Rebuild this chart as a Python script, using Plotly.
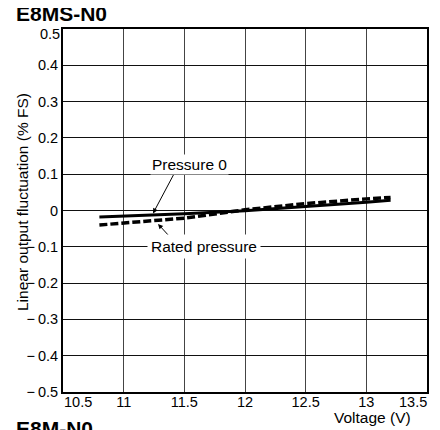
import plotly.graph_objects as go

title_text = "E8MS-N0"
next_title = "E8M-N0"
y_title = "Linear output fluctuation (% FS)"
x_title = "Voltage (V)"
voltage = [10.8, 11.0, 11.5, 12.0, 12.5, 13.0, 13.2]
pressure0 = [-0.018, -0.016, -0.009, -0.001, 0.012, 0.023, 0.028]
rated = [-0.040, -0.034, -0.021, 0.002, 0.019, 0.032, 0.036]
x_ticks = [10.5, 11, 11.5, 12, 12.5, 13, 13.5]
x_ticktext = ["", "11", "11.5", "12", "12.5", "13", ""]
y_ticks = [-0.5, -0.4, -0.3, -0.2, -0.1, 0, 0.1, 0.2, 0.3, 0.4, 0.5]
y_ticktext = ["\u2212\u20090.5", "\u2212\u20090.4", "\u2212\u20090.3", "\u2212\u20090.2",
              "\u2212\u20090.1", "0", "0.1", "0.2", "0.3", "0.4", ""]
y_top_label = "0.5"

FONT = "Liberation Sans, Arial, Helvetica, sans-serif"
TICK = 14.5
LBL = 15.5

fig = go.Figure()
fig.add_trace(go.Scatter(x=voltage, y=pressure0, mode="lines",
                         line=dict(color="black", width=3), name="Pressure 0"))
fig.add_trace(go.Scatter(x=voltage, y=rated, mode="lines",
                         line=dict(color="black", width=3.5, dash="8px,3px"),
                         name="Rated pressure"))

ann = []
# edge tick labels (shifted inward like the original)
ann.append(dict(x=x_ticks[0], y=y_ticks[0], xref="x", yref="y", text="10.5", showarrow=False,
                xanchor="left", yanchor="middle", yshift=-10, xshift=-1,
                font=dict(size=TICK, color="black")))
ann.append(dict(x=x_ticks[-1], y=y_ticks[0], xref="x", yref="y", text="13.5", showarrow=False,
                xanchor="right", yanchor="middle", yshift=-10, xshift=2,
                font=dict(size=TICK, color="black")))
ann.append(dict(x=0, y=y_ticks[-1], xref="paper", yref="y", text=y_top_label, showarrow=False,
                xanchor="right", yanchor="middle", yshift=-4.5, xshift=-1,
                font=dict(size=TICK, color="black")))
# axis titles
ann.append(dict(x=1, y=0, xref="paper", yref="paper", text=x_title, showarrow=False,
                xanchor="right", yanchor="middle", xshift=-14, yshift=-25,
                font=dict(size=LBL, color="black")))
ann.append(dict(x=0, y=0.5, xref="paper", yref="paper", text=y_title, showarrow=False,
                textangle=-90, xanchor="center", yanchor="middle", xshift=-41, yshift=8.5,
                font=dict(size=LBL, color="black")))
# series labels
ann.append(dict(x=11.242, y=-0.008, xref="x", yref="y", ax=11.423, ay=0.106,
                axref="x", ayref="y", text="", showarrow=True, arrowhead=2,
                arrowsize=1, arrowwidth=1, arrowcolor="black"))
ann.append(dict(x=11.54, y=0.128, xref="x", yref="y", text="Pressure 0", showarrow=False,
                bgcolor="white", font=dict(size=LBL, color="black")))
ann.append(dict(x=11.283, y=-0.037, xref="x", yref="y", ax=11.382, ay=-0.073,
                axref="x", ayref="y", text="", showarrow=True, arrowhead=2,
                arrowsize=1, arrowwidth=1, arrowcolor="black"))
ann.append(dict(x=11.66, y=-0.1, xref="x", yref="y", text="Rated pressure", showarrow=False,
                bgcolor="white", borderpad=3, font=dict(size=LBL, color="black")))
# titles
ann.append(dict(x=0, y=1, xref="paper", yref="paper", text="<b>" + title_text + "</b>",
                showarrow=False, xanchor="left", yanchor="middle", xshift=-49, yshift=16,
                font=dict(size=21, color="black")))
ann.append(dict(x=0, y=0, xref="paper", yref="paper", text="<b>" + next_title + "</b>",
                showarrow=False, xanchor="left", yanchor="middle", xshift=-49, yshift=-36,
                font=dict(size=21, color="black")))

fig.update_layout(
    width=432, height=422,
    margin=dict(l=55, r=13, t=21, b=38),
    paper_bgcolor="white", plot_bgcolor="white",
    showlegend=False,
    font=dict(family=FONT, size=TICK, color="black"),
    annotations=ann,
    xaxis=dict(range=[10.5, 13.5], tickvals=x_ticks, ticktext=x_ticktext,
               showgrid=True, gridcolor="#444", gridwidth=1, zeroline=False,
               showline=True, linecolor="black", linewidth=2, mirror=True,
               ticks="", ticklabelstandoff=-4, tickfont=dict(size=TICK, color="black")),
    yaxis=dict(range=[-0.5, 0.5], tickvals=y_ticks, ticktext=y_ticktext,
               showgrid=True, gridcolor="#111", gridwidth=1.3, zeroline=False,
               showline=True, linecolor="black", linewidth=2, mirror=True,
               ticks="", ticklabelstandoff=0, tickfont=dict(size=TICK, color="black")),
)

fig.write_html("out.html")
